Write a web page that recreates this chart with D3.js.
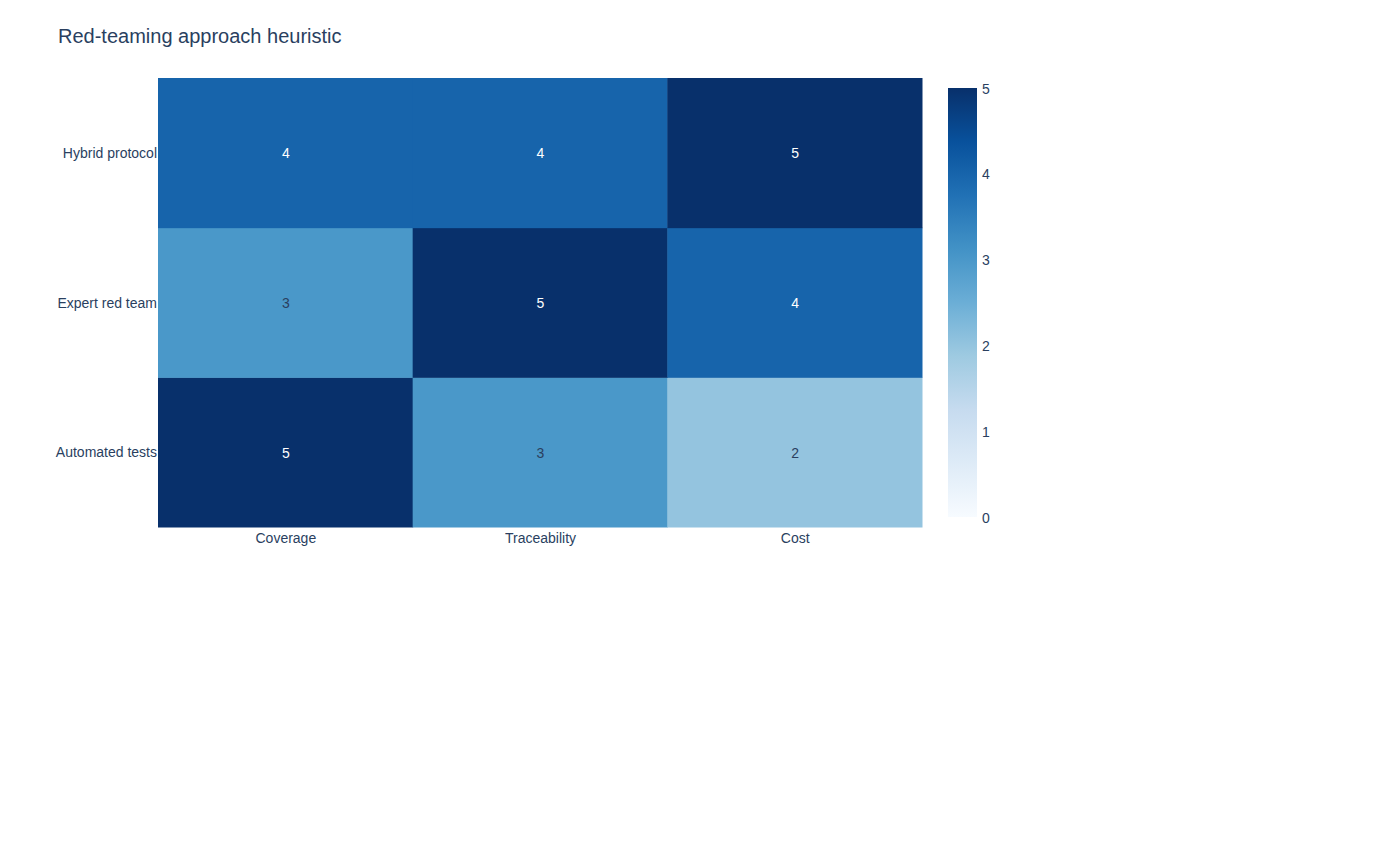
<!DOCTYPE html>
<html>
<head>
<meta charset="utf-8">
<script src="https://cdn.jsdelivr.net/npm/d3@7"></script>
<style>
  body { margin: 0; background: #fff; }
  text { font-family: Arial, "Liberation Sans", sans-serif; }
</style>
</head>
<body>
<div id="chart"></div>
<script>
// heatmap data
var criteria = ["Coverage", "Traceability", "Cost"];
var approaches = ["Automated tests", "Expert red team", "Hybrid protocol"];
var automated = [5, 3, 2];
var expert = [3, 5, 4];
var hybrid = [4, 4, 5];
var colorTicks = [0, 1, 2, 3, 4, 5];

// plotly "Blues"
var blueStops = [0, 0.125, 0.25, 0.375, 0.5, 0.625, 0.75, 0.875, 1];
var blueColors = ["rgb(247,251,255)", "rgb(222,235,247)", "rgb(198,219,239)", "rgb(158,202,225)",
  "rgb(107,174,214)", "rgb(66,146,198)", "rgb(33,113,181)", "rgb(8,81,156)", "rgb(8,48,107)"];

var w_width = 1400, w_height = 850;
var margin = {left: 158, top: 78, right: 478, bottom: 323};
var inkColor = "#2a3f5f";
var fontSize = 14;

var svg = d3.select("#chart").append("svg")
  .attr("width", w_width)
  .attr("height", w_height)

var rows = [automated, expert, hybrid];
var cells = [];
rows.forEach(function(r, i) {
  r.forEach(function(v, j) { cells.push({row: approaches[i], col: criteria[j], value: v}) })
})

var x = d3.scaleBand().domain(criteria).range([margin.left, w_width - margin.right])
var y = d3.scaleBand().domain(approaches).range([w_height - margin.bottom, margin.top])
var zMin = 0, zMax = 5;
var color = d3.scaleLinear()
  .domain(blueStops.map(function(s) { return zMin + s * (zMax - zMin) }))
  .range(blueColors)

svg.append("text")
  .attr("x", 58).attr("y", 43)
  .attr("font-size", 20)
  .attr("fill", inkColor)
  .text("Red-teaming approach heuristic")

var cellG = svg.append("g")
cellG.selectAll("rect").data(cells).enter().append("rect")
  .attr("x", function(d) { return x(d.col) })
  .attr("y", function(d) { return y(d.row) })
  .attr("width", x.bandwidth() + 0.5)
  .attr("height", y.bandwidth() + 0.5)
  .attr("fill", function(d) { return color(d.value) })

cellG.selectAll("text").data(cells).enter().append("text")
  .attr("x", function(d) { return x(d.col) + x.bandwidth() / 2 + 0.5 })
  .attr("y", function(d) { return y(d.row) + y.bandwidth() / 2 })
  .attr("dy", "0.4em")
  .attr("text-anchor", "middle")
  .attr("font-size", fontSize)
  .attr("fill", function(d) { return d.value >= 4 ? "#ffffff" : inkColor })
  .text(function(d) { return d.value })

// axes
var xAxis = svg.append("g")
  .attr("transform", "translate(0.5," + (w_height - margin.bottom) + ")")
  .call(d3.axisBottom(x).tickSize(0).tickPadding(6))
var yAxis = svg.append("g")
  .attr("transform", "translate(" + (margin.left - 1) + ",0.7)")
  .call(d3.axisLeft(y).tickSize(0).tickPadding(0))
;[xAxis, yAxis].forEach(function(a) {
  a.select(".domain").remove()
  a.selectAll("text").attr("font-size", fontSize).attr("fill", inkColor)
    .style("font-family", "Arial, 'Liberation Sans', sans-serif")
})

// colorbar
var cbX = 948, cbW = 29, cbTop = 88, cbBottom = 517;
var grad = svg.append("defs").append("linearGradient")
  .attr("id", "blues").attr("x1", 0).attr("y1", 1).attr("x2", 0).attr("y2", 0)
grad.selectAll("stop").data(blueStops).enter().append("stop")
  .attr("offset", function(d) { return d })
  .attr("stop-color", function(d, i) { return blueColors[i] })
svg.append("rect")
  .attr("x", cbX).attr("y", cbTop)
  .attr("width", cbW).attr("height", cbBottom - cbTop)
  .attr("fill", "url(#blues)")

var cbScale = d3.scaleLinear().domain([zMin, zMax]).range([cbBottom, cbTop])
var cbAxis = svg.append("g")
  .attr("transform", "translate(" + (cbX + cbW) + ",0.7)")
  .call(d3.axisRight(cbScale).tickValues(colorTicks).tickFormat(d3.format("d")).tickSize(0).tickPadding(5))
cbAxis.select(".domain").remove()
cbAxis.selectAll("text").attr("font-size", fontSize).attr("fill", inkColor)
  .style("font-family", "Arial, 'Liberation Sans', sans-serif")
</script>
</body>
</html>
